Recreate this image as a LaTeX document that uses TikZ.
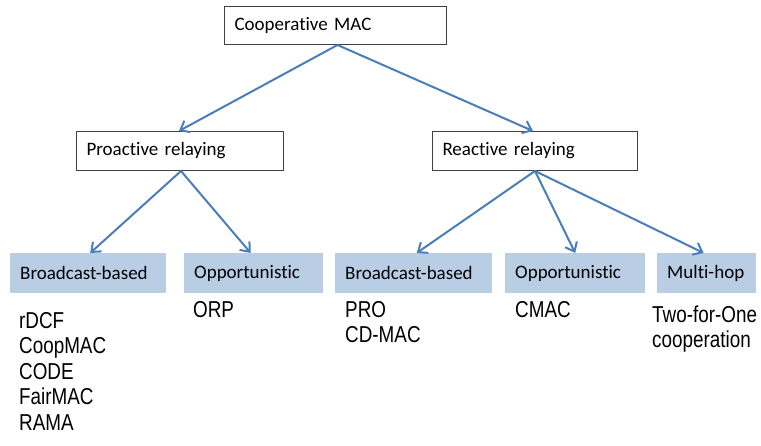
\documentclass[tikz,border=0pt]{standalone}
\usepackage{fontspec}
\setmainfont{Carlito}[RawFeature=-liga]
\newfontfamily\listfont[FakeStretch=0.82]{Liberation Sans}
\usetikzlibrary{arrows.meta}
\definecolor{arrowblue}{HTML}{4A7EBB}
\definecolor{catfill}{HTML}{B9CDE5}
\definecolor{boxline}{HTML}{404040}
\begin{document}
\begin{tikzpicture}[x=1pt,y=-1pt,
  label font/.style={font=\fontsize{19}{22}\selectfont},
  framebox/.style={label font, draw=boxline, line width=1pt, fill=white,
    anchor=north west, inner xsep=10pt, inner ysep=0pt, align=left},
  catbox/.style={label font, fill=catfill, anchor=north west,
    inner xsep=10pt, inner ysep=0pt, align=left, minimum height=40pt},
  item/.style={font=\listfont\fontsize{23}{26}\selectfont, anchor=base west,
    inner sep=0pt},
  link/.style={draw=arrowblue, line width=2pt,
    -{Straight Barb[length=8pt,width=13pt,line width=2pt]}}]
  \useasboundingbox (0,0) rectangle (761,446);

  % root and the two relaying classes
  \node[framebox, text width=202pt, minimum height=38pt] (root) at (224,6) {Cooperative MAC};
  \node[framebox, text width=187pt, minimum height=39pt] (pro) at (76,131) {Proactive relaying};
  \node[framebox, text width=185pt, minimum height=39pt] (rea) at (432,131) {Reactive relaying};

  % categories
  \node[catbox, text width=136pt] (bb1) at (10,253) {Broadcast-based};
  \node[catbox, text width=119pt, inner xsep=9pt, minimum width=139pt] (op1) at (184,253) {Opportunistic};
  \node[catbox, text width=137pt] (bb2) at (335,253) {Broadcast-based};
  \node[catbox, text width=120pt] (op2) at (505,253) {Opportunistic};
  \node[catbox, text width=79pt] (mh) at (657,253) {Multi-hop};

  % protocols in each category
  \node[item] (a1) at (19,328.5) {rDCF};
  \node[item] (a2) at (19,354) {CoopMAC};
  \node[item] (a3) at (19,379.5) {CODE};
  \node[item] (a4) at (19,405) {FairMAC};
  \node[item] (a5) at (19,430.5) {RAMA};
  \node[item] (b1) at (193,317.5) {ORP};
  \node[item] (c1) at (345,317.5) {PRO};
  \node[item] (c2) at (345,343) {CD-MAC};
  \node[item] (d1) at (515,317.5) {CMAC};
  \node[item] (e1) at (652,322.5) {Two-for-One};
  \node[item] (e2) at (652,348) {cooperation};

  % tree connectors
  \draw[link] ([xshift=2pt]root.south) -- ([xshift=-1pt]pro.north);
  \draw[link] ([xshift=2pt]root.south) -- ([xshift=-2pt]rea.north);
  \draw[link] ([xshift=1pt]pro.south) -- ([xshift=2pt]bb1.north);
  \draw[link] ([xshift=1pt]pro.south) -- ([xshift=-3pt]op1.north);
  \draw[link] (rea.south) -- ([xshift=3pt]bb2.north);
  \draw[link] (rea.south) -- (op2.north);
  \draw[link] (rea.south) -- ([xshift=-3pt]mh.north);
\end{tikzpicture}
\end{document}
